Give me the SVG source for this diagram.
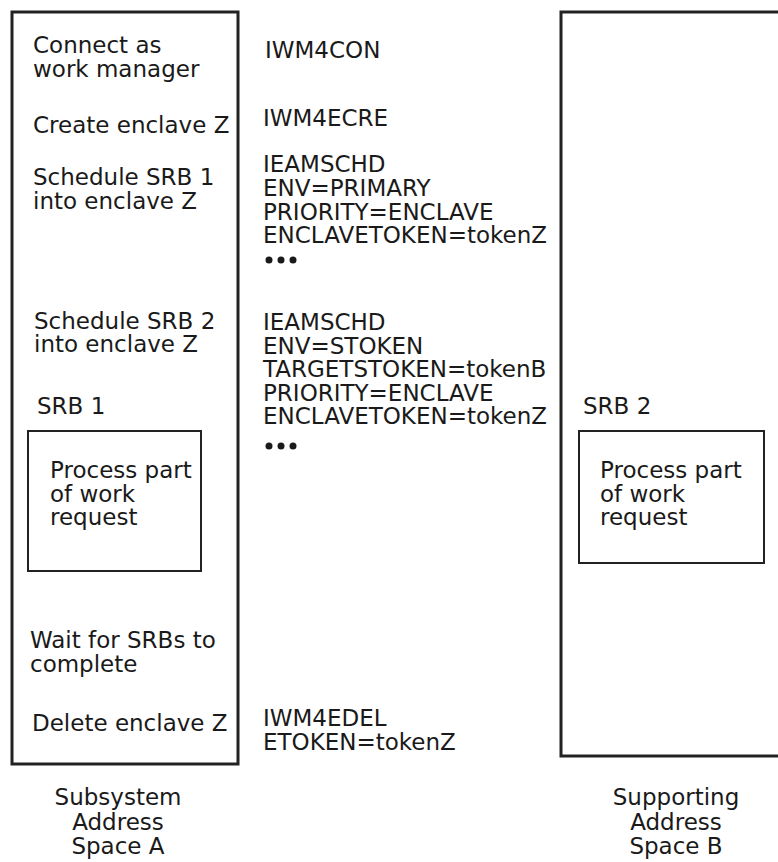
<svg xmlns="http://www.w3.org/2000/svg" width="778" height="862" viewBox="0 0 778 862">
<style>
text{font-family:"DejaVu Sans","Liberation Sans",sans-serif;font-size:23px;fill:#1a1a1a}
.big{fill:none;stroke:#222;stroke-width:3}
.inner{fill:none;stroke:#222;stroke-width:2}
.c{text-anchor:middle}
.dot{fill:#1a1a1a}
</style>
<rect width="778" height="862" fill="#fff"/>
<g id="spaceA">
<rect class="big" x="12" y="12" width="226" height="752"/>
<text x="33" y="53">Connect as</text>
<text x="33" y="77">work manager</text>
<text x="33" y="133">Create enclave Z</text>
<text x="33" y="185">Schedule SRB 1</text>
<text x="33" y="209">into enclave Z</text>
<text x="34" y="329">Schedule SRB 2</text>
<text x="34" y="352">into enclave Z</text>
<text x="37" y="414">SRB 1</text>
<text x="30" y="648">Wait for SRBs to</text>
<text x="30" y="672">complete</text>
<text x="32" y="731">Delete enclave Z</text>
</g>
<g id="srb1">
<rect class="inner" x="28" y="431" width="173" height="140"/>
<text x="50" y="478">Process part</text>
<text x="50" y="502">of work</text>
<text x="50" y="525">request</text>
</g>
<g id="spaceB">
<rect class="big" x="561" y="12" width="240" height="744"/>
<text x="583" y="414">SRB 2</text>
</g>
<g id="srb2">
<rect class="inner" x="579" y="431" width="185" height="132"/>
<text x="600" y="478">Process part</text>
<text x="600" y="502">of work</text>
<text x="600" y="525">request</text>
</g>
<g id="calls">
<text x="265" y="58">IWM4CON</text>
<text x="263" y="126">IWM4ECRE</text>
<text x="263" y="172">IEAMSCHD</text>
<text x="263" y="196">ENV=PRIMARY</text>
<text x="263" y="220">PRIORITY=ENCLAVE</text>
<text x="263" y="243">ENCLAVETOKEN=tokenZ</text>
<circle class="dot" cx="269" cy="260" r="3.5"/>
<circle class="dot" cx="281" cy="260" r="3.5"/>
<circle class="dot" cx="293" cy="260" r="3.5"/>
<text x="263" y="330">IEAMSCHD</text>
<text x="263" y="354">ENV=STOKEN</text>
<text x="263" y="377">TARGETSTOKEN=tokenB</text>
<text x="263" y="401">PRIORITY=ENCLAVE</text>
<text x="263" y="424">ENCLAVETOKEN=tokenZ</text>
<circle class="dot" cx="269" cy="446" r="3.5"/>
<circle class="dot" cx="281" cy="446" r="3.5"/>
<circle class="dot" cx="293" cy="446" r="3.5"/>
<text x="263" y="726">IWM4EDEL</text>
<text x="263" y="750">ETOKEN=tokenZ</text>
</g>
<g id="labels">
<text class="c" x="118" y="805">Subsystem</text>
<text class="c" x="118" y="830">Address</text>
<text class="c" x="118" y="854">Space A</text>
<text class="c" x="676" y="805">Supporting</text>
<text class="c" x="676" y="830">Address</text>
<text class="c" x="676" y="854">Space B</text>
</g>
<g id="connectors"></g>
</svg>
